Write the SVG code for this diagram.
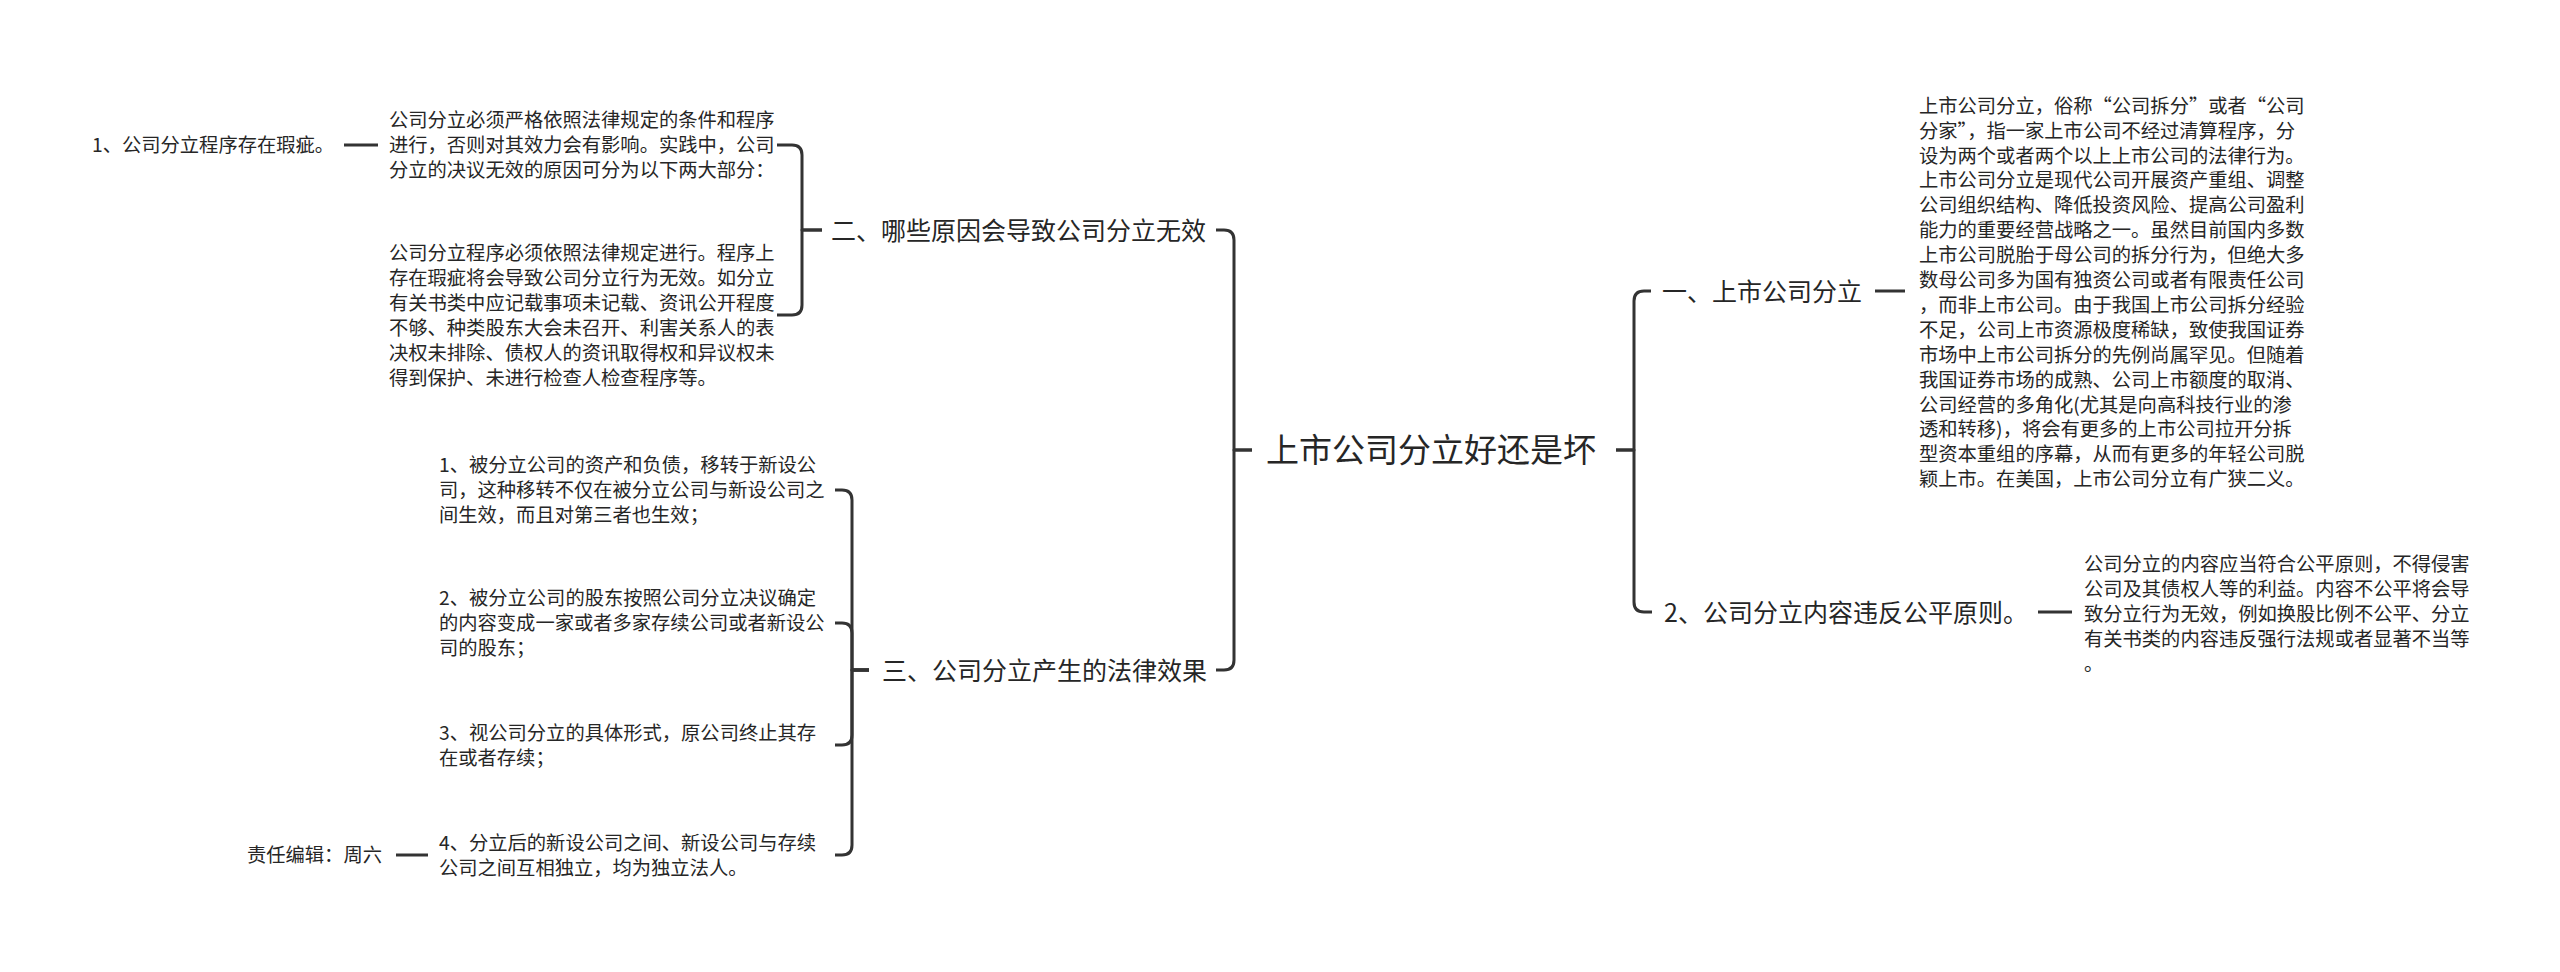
<svg xmlns="http://www.w3.org/2000/svg" width="2560" height="972" viewBox="0 0 2560 972">
<style>
  text { font-family: "Noto Sans CJK SC", "Noto Sans", sans-serif; fill: #262626; }
  .root { font-size: 33px; }
  .main { font-size: 25px; }
  .leaf { font-size: 19.3px; }
  .ln { fill: none; stroke: #333333; stroke-width: 3; stroke-linecap: butt; stroke-linejoin: round; }
</style>
<rect x="0" y="0" width="2560" height="972" fill="#ffffff"/>

<g id="connectors">
  <!-- root left bracket -->
  <path class="ln" d="M1252 450 H1234 V240 Q1234 230 1224 230 H1216"/>
  <path class="ln" d="M1252 450 H1234 V660 Q1234 670 1224 670 H1216"/>
  <!-- root right bracket -->
  <path class="ln" d="M1616 450 H1634 V301 Q1634 291 1644 291 H1651"/>
  <path class="ln" d="M1616 450 H1634 V602 Q1634 612 1644 612 H1652"/>
  <!-- 二 bracket -->
  <path class="ln" d="M822 230 H802 V155 Q802 145 792 145 H777"/>
  <path class="ln" d="M822 230 H802 V305 Q802 315 792 315 H777"/>
  <!-- 三 bracket -->
  <path class="ln" d="M869 670 H852 V500 Q852 490 842 490 H835"/>
  <path class="ln" d="M869 670 H852 V633 Q852 623 842 623 H835"/>
  <path class="ln" d="M869 670 H852 V735 Q852 745 842 745 H835"/>
  <path class="ln" d="M869 670 H852 V845 Q852 855 842 855 H835"/>
  <!-- straight links -->
  <path class="ln" d="M344 145 H378"/>
  <path class="ln" d="M396 855 H428"/>
  <path class="ln" d="M1875 291 H1905"/>
  <path class="ln" d="M2038 612 H2072"/>
</g>

<g id="root">
  <text class="root" x="1266" y="462">上市公司分立好还是坏</text>
</g>

<g id="node-er">
  <text class="main" x="831" y="239.5">二、哪些原因会导致公司分立无效</text>
</g>

<g id="node-san">
  <text class="main" x="882" y="679.5">三、公司分立产生的法律效果</text>
</g>

<g id="node-yi">
  <text class="main" x="1662" y="300.5">一、上市公司分立</text>
</g>

<g id="node-2">
  <text class="main" x="1664" y="621.5">2、公司分立内容违反公平原则。</text>
</g>

<g id="node-flaw">
  <text class="leaf" x="92" y="152.3">1、公司分立程序存在瑕疵。</text>
</g>

<g id="leaf-a">
  <text class="leaf">
    <tspan x="389" y="127.3">公司分立必须严格依照法律规定的条件和程序</tspan>
    <tspan x="389" y="152.3">进行，否则对其效力会有影响。实践中，公司</tspan>
    <tspan x="389" y="177.3">分立的决议无效的原因可分为以下两大部分：</tspan>
  </text>
</g>

<g id="leaf-b">
  <text class="leaf">
    <tspan x="389" y="260.3">公司分立程序必须依照法律规定进行。程序上</tspan>
    <tspan x="389" y="285.3">存在瑕疵将会导致公司分立行为无效。如分立</tspan>
    <tspan x="389" y="310.3">有关书类中应记载事项未记载、资讯公开程度</tspan>
    <tspan x="389" y="335.3">不够、种类股东大会未召开、利害关系人的表</tspan>
    <tspan x="389" y="360.3">决权未排除、债权人的资讯取得权和异议权未</tspan>
    <tspan x="389" y="385.3">得到保护、未进行检查人检查程序等。</tspan>
  </text>
</g>

<g id="item-1">
  <text class="leaf">
    <tspan x="439" y="472.3">1、被分立公司的资产和负债，移转于新设公</tspan>
    <tspan x="439" y="497.3">司，这种移转不仅在被分立公司与新设公司之</tspan>
    <tspan x="439" y="522.3">间生效，而且对第三者也生效；</tspan>
  </text>
</g>

<g id="item-2">
  <text class="leaf">
    <tspan x="439" y="605.3">2、被分立公司的股东按照公司分立决议确定</tspan>
    <tspan x="439" y="630.3">的内容变成一家或者多家存续公司或者新设公</tspan>
    <tspan x="439" y="655.3">司的股东；</tspan>
  </text>
</g>

<g id="item-3">
  <text class="leaf">
    <tspan x="439" y="740.3">3、视公司分立的具体形式，原公司终止其存</tspan>
    <tspan x="439" y="765.3">在或者存续；</tspan>
  </text>
</g>

<g id="item-4">
  <text class="leaf">
    <tspan x="439" y="850.3">4、分立后的新设公司之间、新设公司与存续</tspan>
    <tspan x="439" y="875.3">公司之间互相独立，均为独立法人。</tspan>
  </text>
</g>

<g id="editor">
  <text class="leaf" x="247" y="862.3">责任编辑：周六</text>
</g>

<g id="rleaf-a">
  <text class="leaf">
    <tspan x="1919" y="112.7">上市公司分立，俗称“公司拆分”或者“公司</tspan>
    <tspan x="1919" y="137.6">分家”，指一家上市公司不经过清算程序，分</tspan>
    <tspan x="1919" y="162.5">设为两个或者两个以上上市公司的法律行为。</tspan>
    <tspan x="1919" y="187.4">上市公司分立是现代公司开展资产重组、调整</tspan>
    <tspan x="1919" y="212.3">公司组织结构、降低投资风险、提高公司盈利</tspan>
    <tspan x="1919" y="237.2">能力的重要经营战略之一。虽然目前国内多数</tspan>
    <tspan x="1919" y="262.1">上市公司脱胎于母公司的拆分行为，但绝大多</tspan>
    <tspan x="1919" y="287.0">数母公司多为国有独资公司或者有限责任公司</tspan>
    <tspan x="1919" y="311.9">，而非上市公司。由于我国上市公司拆分经验</tspan>
    <tspan x="1919" y="336.8">不足，公司上市资源极度稀缺，致使我国证券</tspan>
    <tspan x="1919" y="361.7">市场中上市公司拆分的先例尚属罕见。但随着</tspan>
    <tspan x="1919" y="386.6">我国证券市场的成熟、公司上市额度的取消、</tspan>
    <tspan x="1919" y="411.5">公司经营的多角化(尤其是向高科技行业的渗</tspan>
    <tspan x="1919" y="436.4">透和转移)，将会有更多的上市公司拉开分拆</tspan>
    <tspan x="1919" y="461.3">型资本重组的序幕，从而有更多的年轻公司脱</tspan>
    <tspan x="1919" y="486.2">颖上市。在美国，上市公司分立有广狭二义。</tspan>
  </text>
</g>

<g id="rleaf-b">
  <text class="leaf">
    <tspan x="2084" y="570.6">公司分立的内容应当符合公平原则，不得侵害</tspan>
    <tspan x="2084" y="595.6">公司及其债权人等的利益。内容不公平将会导</tspan>
    <tspan x="2084" y="620.6">致分立行为无效，例如换股比例不公平、分立</tspan>
    <tspan x="2084" y="645.6">有关书类的内容违反强行法规或者显著不当等</tspan>
    <tspan x="2084" y="670.6">。</tspan>
  </text>
</g>
</svg>
